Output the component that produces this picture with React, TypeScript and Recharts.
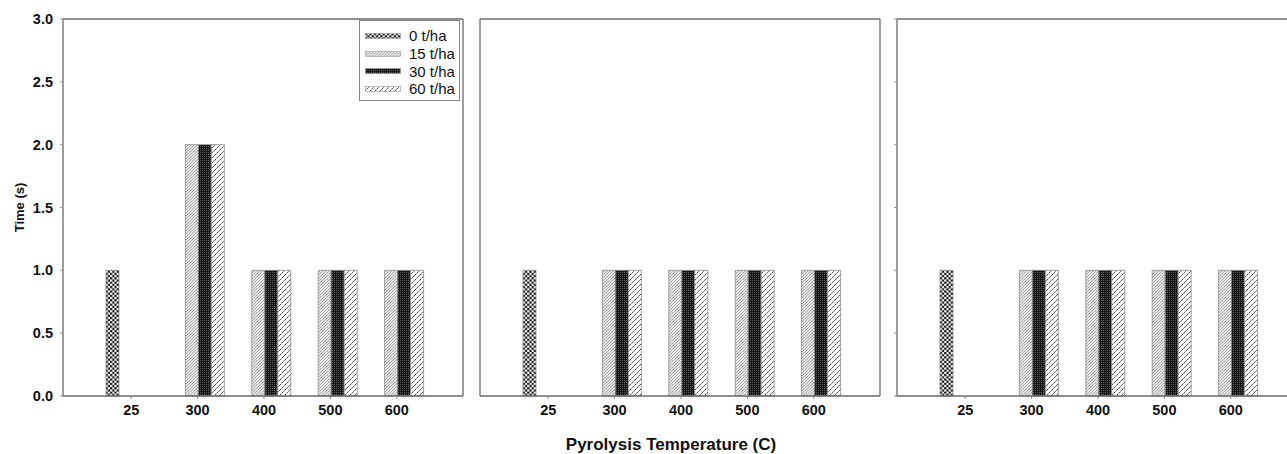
import React from 'react';
import { BarChart, Bar, XAxis, YAxis, Legend, CartesianGrid } from 'recharts';

// ---- data ----
const categories = ['25', '300', '400', '500', '600'];
const seriesNames = ['0 t/ha', '15 t/ha', '30 t/ha', '60 t/ha'];
const yTicks = [0, 0.5, 1, 1.5, 2, 2.5, 3];

const panel1_0 = [1, null, null, null, null];
const panel1_15 = [null, 2, 1, 1, 1];
const panel1_30 = [null, 2, 1, 1, 1];
const panel1_60 = [null, 2, 1, 1, 1];

const panel2_0 = [1, null, null, null, null];
const panel2_15 = [null, 1, 1, 1, 1];
const panel2_30 = [null, 1, 1, 1, 1];
const panel2_60 = [null, 1, 1, 1, 1];

const panel3_0 = [1, null, null, null, null];
const panel3_15 = [null, 1, 1, 1, 1];
const panel3_30 = [null, 1, 1, 1, 1];
const panel3_60 = [null, 1, 1, 1, 1];

const build = (a: any[], b: any[], c: any[], d: any[]) =>
  categories.map((cat, i) => ({ cat, s0: a[i], s15: b[i], s30: c[i], s60: d[i] }));

const data1 = build(panel1_0, panel1_15, panel1_30, panel1_60);
const data2 = build(panel2_0, panel2_15, panel2_30, panel2_60);
const data3 = build(panel3_0, panel3_15, panel3_30, panel3_60);

const seriesKeys = ['s0', 's15', 's30', 's60'];
const patternIds = ['pat0', 'pat15', 'pat30', 'pat60'];

const FONT = '"Liberation Sans", Arial, Helvetica, sans-serif';
const AXIS = '#6a6a6a';
const BAR_STROKE = '#8c8c8c';

const Patterns = () => (
  <svg width={0} height={0} style={{ position: 'absolute' }}>
    <defs>
      <pattern id="pat0" patternUnits="userSpaceOnUse" width={4.4} height={4.4}>
        <rect width={4.4} height={4.4} fill="#ffffff" />
        <rect x={0} y={0} width={2.2} height={2.2} fill="#111" />
        <rect x={2.2} y={2.2} width={2.2} height={2.2} fill="#111" />
      </pattern>
      <pattern id="pat15" patternUnits="userSpaceOnUse" width={3} height={3}>
        <rect width={3} height={3} fill="#e6e6e6" />
        <path d="M-1,1 L1,-1 M0,3 L3,0 M2,4 L4,2" stroke="#999" strokeWidth={0.8} />
      </pattern>
      <pattern id="pat30" patternUnits="userSpaceOnUse" width={2} height={2}>
        <rect width={2} height={2} fill="#161616" />
        <rect x={0} y={0} width={1} height={1} fill="#5a5a5a" />
      </pattern>
      <pattern id="pat60" patternUnits="userSpaceOnUse" width={5} height={5}>
        <rect width={5} height={5} fill="#ffffff" />
        <path d="M-1,1 L1,-1 M0,5 L5,0 M4,6 L6,4" stroke="#222" strokeWidth={0.9} strokeDasharray="2.2 0.8" />
      </pattern>
    </defs>
  </svg>
);

const LegendBox = () => (
  <div
    style={{
      width: 101,
      height: 81,
      boxSizing: 'border-box',
      border: '1px solid #888',
      background: '#fff',
      paddingTop: 6,
      fontFamily: FONT,
    }}
  >
    {seriesNames.map((name, i) => (
      <div key={name} style={{ display: 'flex', alignItems: 'center', height: 17.7 }}>
        <svg width={36} height={6} style={{ marginLeft: 5, marginRight: 8 }}>
          <rect x={0.5} y={0.5} width={35} height={5} fill={`url(#${patternIds[i]})`} stroke="#999" strokeWidth={0.6} />
        </svg>
        <span style={{ fontSize: 15, color: '#111', lineHeight: '15px' }}>{name}</span>
      </div>
    ))}
  </div>
);

type PanelProps = {
  data: any[];
  left: number;
  width: number;
  yAxisWidth: number;
  marginRight: number;
  yLabels?: boolean;
  yTickLines?: boolean;
  legend?: boolean;
  yTitle?: boolean;
  xTitle?: boolean;
};

const Panel = ({ data, left, width, yAxisWidth, marginRight, yLabels, yTickLines, legend, yTitle, xTitle }: PanelProps) => (
  <div style={{ position: 'absolute', left, top: 0 }}>
    <BarChart
      width={width}
      height={454}
      data={data}
      margin={{ top: 19, right: marginRight, bottom: 0, left: 0 }}
      barGap={0}
      barCategoryGap={8}
    >
      <CartesianGrid
        stroke={AXIS}
        strokeWidth={1.3}
        horizontalCoordinatesGenerator={(p: any) => [p.offset.top]}
        verticalCoordinatesGenerator={(p: any) => [p.offset.left + p.offset.width]}
      />
      <XAxis
        dataKey="cat"
        type="category"
        height={58}
        padding={{ left: 35, right: 33 }}
        axisLine={{ stroke: AXIS, strokeWidth: 1.3 }}
        tickLine={{ stroke: '#888' }}
        tickSize={3}
        tickMargin={6}
        tick={{ fill: '#111', fontSize: 14.5, fontWeight: 'bold', fontFamily: FONT }}
        interval={0}
        label={
          xTitle
            ? {
                content: (p: any) => {
                  const vb = p.viewBox;
                  return (
                    <text
                      x={vb.x + vb.width / 2 - 9}
                      y={vb.y + 54}
                      textAnchor="middle"
                      fontSize={17}
                      fontWeight="bold"
                      fontFamily={FONT}
                      fill="#111"
                    >
                      Pyrolysis Temperature (C)
                    </text>
                  );
                },
              }
            : undefined
        }
      />
      <YAxis
        type="number"
        domain={[0, 3]}
        ticks={yTicks}
        width={yAxisWidth}
        axisLine={{ stroke: AXIS, strokeWidth: 1.3 }}
        tickLine={yTickLines ? { stroke: '#999' } : false}
        tickSize={3}
        tickMargin={7}
        tickFormatter={(v: number) => (yLabels ? v.toFixed(1) : '')}
        tick={{ fill: '#111', fontSize: 14.5, fontWeight: 'bold', fontFamily: FONT }}
        label={
          yTitle
            ? {
                content: (p: any) => {
                  const vb = p.viewBox;
                  const cx = 19;
                  const cy = vb.y + vb.height / 2;
                  return (
                    <text
                      x={cx}
                      y={cy}
                      transform={`rotate(-90, ${cx}, ${cy})`}
                      textAnchor="middle"
                      dominantBaseline="central"
                      fontSize={13}
                      fontWeight="bold"
                      fontFamily={FONT}
                      fill="#111"
                    >
                      Time (s)
                    </text>
                  );
                },
              }
            : undefined
        }
      />
      {legend && (
        <Legend
          layout="vertical"
          align="center"
          verticalAlign="middle"
          wrapperStyle={{ position: 'absolute', left: 359, top: 20, width: 101, height: 81 }}
          content={() => <LegendBox />}
        />
      )}
      {seriesKeys.map((k, i) => (
        <Bar
          key={k}
          dataKey={k}
          name={seriesNames[i]}
          fill={`url(#${patternIds[i]})`}
          stroke={BAR_STROKE}
          strokeWidth={0.8}
          isAnimationActive={false}
        />
      ))}
    </BarChart>
  </div>
);

export default function App() {
  return (
    <div
      style={{
        position: 'absolute',
        left: 0,
        top: 0,
        width: 1287,
        height: 454,
        overflow: 'hidden',
        background: '#fff',
        fontFamily: FONT,
      }}
    >
      <Patterns />
      <Panel data={data1} left={0} width={470} yAxisWidth={63} marginRight={7} yLabels yTickLines legend yTitle />
      <Panel data={data2} left={470} width={420} yAxisWidth={10} marginRight={10} xTitle />
      <Panel data={data3} left={887} width={420} yAxisWidth={10} marginRight={10} yTickLines />
    </div>
  );
}
